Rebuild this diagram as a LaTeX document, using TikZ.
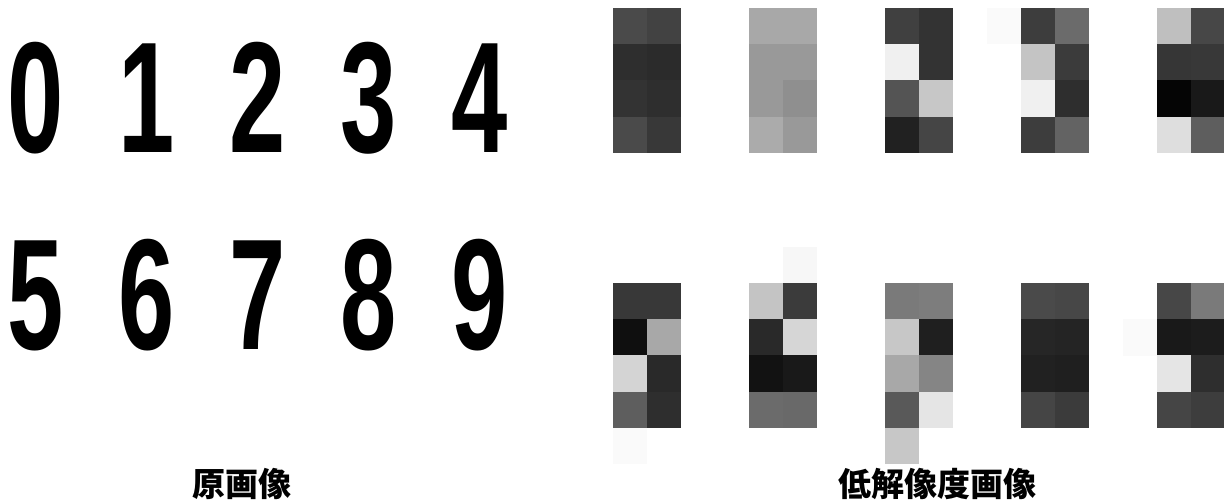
\documentclass[tikz,border=0pt]{standalone}
\usepackage{fontspec}
\newfontfamily\digitfont[FakeStretch=0.64]{Liberation Sans}
\newfontfamily\cjkfont{Noto Sans CJK JP}
\tikzset{
  digit/.style={font=\digitfont\bfseries\fontsize{79}{79}\selectfont, anchor=base, inner sep=0pt},
  caption/.style={font=\cjkfont\bfseries\fontsize{16.5}{16.5}\selectfont, inner sep=0pt},
}
% one low resolution block: 2 columns x 4 rows, values are percent black
\newcommand{\pixblock}[3]{%
  \begin{scope}[shift={(#1,#2)}]
    \foreach \l/\r [count=\i from 0] in {#3} {
      \fill[black!\l] (0,\i*36.25) rectangle ++(34,36.25);
      \fill[black!\r] (34,\i*36.25) rectangle ++(34,36.25);
    }
  \end{scope}
}
\newcommand{\pixcell}[3]{%
  \fill[black!#3] (#1,#2) rectangle ++(34,36.25);
}
\begin{document}
\begin{tikzpicture}[x=0.5pt, y=-0.5pt]
  \useasboundingbox (0,0) rectangle (1224,501);

  % original digits
  \foreach \d in {0,...,4}
    \node[digit] (d\d) at ({36+111*\d},153) {\d};
  \foreach \d in {5,...,9}
    \node[digit] (d\d) at ({36+111*(\d-5)},350) {\d};

  % low resolution blocks, top row
  \pixblock{613}{8}{71/74, 82/83, 80/82, 71/78}
  \pixblock{749}{8}{34/34, 40/40, 40/44, 33/40}
  \pixblock{885}{8}{75/80, 6/80, 67/22, 87/73}
  \pixblock{1021}{8}{76/58, 23/77, 6/82, 76/61}
  \pixblock{1157}{8}{25/72, 79/78, 98/90, 13/63}
  \pixcell{987}{8}{2}

  % low resolution blocks, bottom row
  \pixblock{613}{283}{78/78, 94/34, 17/84, 63/82}
  \pixblock{749}{283}{23/77, 84/16, 93/90, 58/59}
  \pixblock{885}{283}{52/51, 22/88, 34/48, 65/10}
  \pixblock{1021}{283}{71/72, 85/86, 87/88, 73/77}
  \pixblock{1157}{283}{72/52, 90/89, 10/82, 73/76}
  \pixcell{613}{428}{2}
  \pixcell{783}{246.75}{3}
  \pixcell{885}{428}{22}
  \pixcell{1123}{319.5}{2}

  % captions
  \node[caption] (orig) at (242,484) {原画像};
  \node[caption] (low) at (937,484) {低解像度画像};
\end{tikzpicture}
\end{document}
